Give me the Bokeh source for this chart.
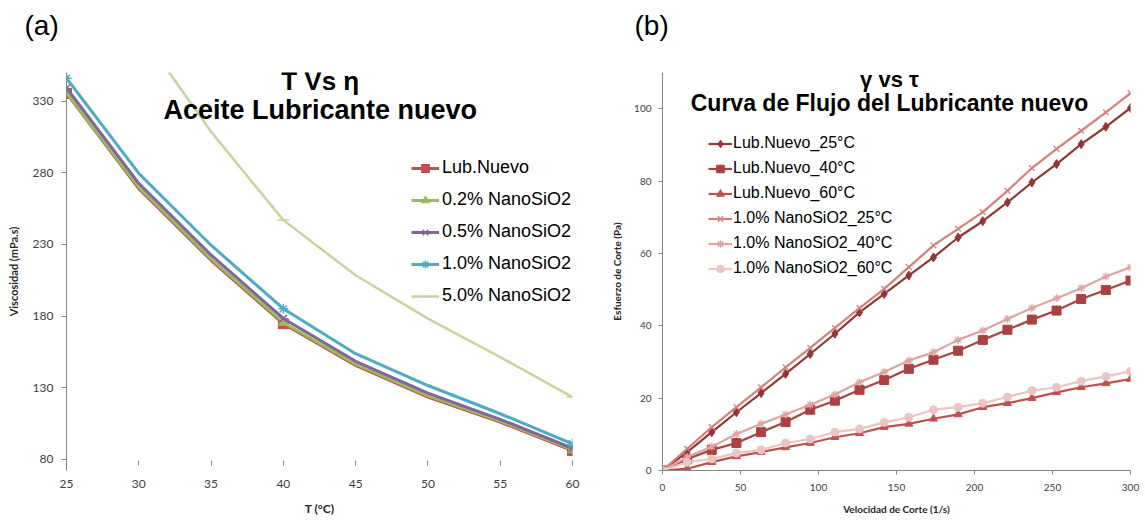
from bokeh.plotting import figure
from bokeh.layouts import row
from bokeh.models import Range1d, FixedTicker, Legend, LegendItem, Label, Title
from bokeh.embed import file_html
from bokeh.resources import INLINE

FONT = "Liberation Sans"
TICKFONT = "Lato"

# ---------------- Panel (a): viscosity vs temperature ----------------
temp_c = [25, 30, 35, 40, 45, 50, 55, 60]
marker_temps = [25, 40, 60]
visc_lub = [335.5, 269.0, 219.0, 174.7, 145.6, 123.5, 106.0, 86.2]
visc_02 = [336.0, 270.0, 220.0, 175.6, 146.5, 124.4, 106.8, 86.8]
visc_05 = [339.2, 272.7, 222.7, 178.4, 148.5, 126.3, 108.0, 87.8]
visc_10 = [346.0, 279.6, 229.5, 185.2, 153.8, 131.6, 111.9, 90.9]
visc_50 = [470.0, 380.0, 308.7, 247.0, 208.5, 178.3, 151.4, 123.5]
a_names = ["Lub.Nuevo", "0.2% NanoSiO2", "0.5% NanoSiO2", "1.0% NanoSiO2", "5.0% NanoSiO2"]
a_ticks_x = [25, 30, 35, 40, 45, 50, 55, 60]
a_ticks_y = [80, 130, 180, 230, 280, 330]

# ---------------- Panel (b): shear stress vs shear rate ----------------
shear_rate = [0, 15.8, 31.6, 47.4, 63.2, 78.9, 94.7, 110.5, 126.3, 142.1,
              157.9, 173.7, 189.5, 205.3, 221.1, 236.8, 252.6, 268.4, 284.2, 300]
lub_25 = [0, 5.1, 10.6, 16.1, 21.4, 26.7, 32.2, 37.8, 43.7, 48.8,
          53.9, 58.9, 64.4, 68.9, 74.1, 79.6, 84.7, 90.2, 95.0, 100.2]
lub_40 = [0, 3.2, 5.7, 7.6, 10.6, 13.4, 16.8, 19.3, 22.3, 25.0,
          28.1, 30.6, 33.1, 36.1, 38.9, 41.7, 44.2, 47.4, 49.9, 52.5]
lub_60 = [0, 0.5, 2.3, 3.9, 5.1, 6.4, 7.6, 9.2, 10.3, 12.0,
          12.9, 14.3, 15.5, 17.5, 18.6, 20.0, 21.6, 23.0, 24.1, 25.3]
nano_25 = [0, 6.0, 12.0, 17.5, 23.0, 28.5, 33.9, 39.4, 44.9, 50.2,
           56.2, 62.2, 66.8, 71.4, 77.3, 83.6, 88.9, 93.9, 99.0, 104.3]
nano_40 = [0, 3.7, 6.6, 10.1, 12.9, 15.5, 18.2, 21.0, 24.4, 27.2,
           30.4, 32.7, 36.1, 38.7, 41.9, 44.9, 47.6, 50.4, 53.6, 56.2]
nano_60 = [0, 2.3, 3.2, 4.8, 5.7, 7.6, 8.7, 10.6, 11.5, 13.3,
           14.7, 16.8, 17.5, 18.6, 20.3, 22.1, 23.0, 24.7, 26.0, 27.4]
b_names = ["Lub.Nuevo_25°C", "Lub.Nuevo_40°C", "Lub.Nuevo_60°C",
           "1.0% NanoSiO2_25°C", "1.0% NanoSiO2_40°C", "1.0% NanoSiO2_60°C"]
b_ticks_x = [0, 50, 100, 150, 200, 250, 300]
b_ticks_y = [0, 20, 40, 60, 80, 100]

AXIS_GRAY = "#868686"
TICK_TEXT = "#404040"


def style_axes(p, label_size, title_size, show_x_line):
    for ax in (p.xaxis[0], p.yaxis[0]):
        ax.axis_line_color = AXIS_GRAY if (ax is p.yaxis[0] or show_x_line) else None
        ax.axis_line_width = 1
        ax.major_tick_line_color = AXIS_GRAY
        ax.major_tick_in = 0
        ax.minor_tick_line_color = None
        ax.major_label_text_font = TICKFONT
        ax.major_label_text_font_size = label_size
        ax.major_label_text_color = TICK_TEXT
        ax.axis_label_text_font = TICKFONT
        ax.axis_label_text_font_size = title_size
        ax.axis_label_text_font_style = "bold"
        ax.axis_label_text_color = "#262626"
    p.xgrid.visible = False
    p.ygrid.visible = False
    p.outline_line_color = None


def add_panel_tag(p, text, offset):
    # invisible spacer next to the frame, then the panel tag above it
    p.add_layout(Title(text=" ", text_font=FONT, text_font_size="20px", standoff=8), "above")
    p.add_layout(Title(text=text, text_font=FONT, text_font_size="28px",
                       text_font_style="normal", text_color="#000000", align="left",
                       offset=offset, standoff=0, vertical_align="bottom"), "above")


# ---------- figure a ----------
pa = figure(width=590, height=521, output_backend="svg", toolbar_location=None,
            x_range=Range1d(25, 60), y_range=Range1d(72.3, 350),
            min_border_left=66, min_border_right=18, min_border_top=72, min_border_bottom=51,
            x_axis_label="T (°C)", y_axis_label="Viscosidad (mPa.s)")
pa.background_fill_color = "white"
pa.border_fill_color = "white"
style_axes(pa, "12px", "12px", False)
pa.yaxis.axis_label_text_font_size = "11px"
add_panel_tag(pa, "(a)", -42)
pa.xaxis.ticker = FixedTicker(ticks=a_ticks_x)
pa.yaxis.ticker = FixedTicker(ticks=a_ticks_y)
pa.xaxis.major_tick_in = 10
pa.xaxis.major_tick_out = -5
pa.yaxis.major_tick_out = 5
pa.xaxis.major_label_standoff = 9
pa.yaxis.major_label_standoff = 8
pa.xaxis.axis_label_standoff = 10
pa.yaxis.axis_label_standoff = 10

a_series = [visc_lub, visc_02, visc_05, visc_10, visc_50]
a_colors = ["#C0504D", "#9BBB59", "#8064A2", "#4BACC6", "#C3D69B"]
a_markers = ["square", "triangle", "x", "asterisk", "dash"]
a_msize = [10, 10, 10, 10, 12]
a_items = []
for name, vals, col, mk, ms in zip(a_names, a_series, a_colors, a_markers, a_msize):
    ln = pa.line(temp_c, vals, line_color=col, line_width=3 if mk != "dash" else 2.5)
    mx = [t for t in temp_c if t in marker_temps]
    my = [v for t, v in zip(temp_c, vals) if t in marker_temps]
    sc = pa.scatter(mx, my, marker=mk, size=ms, fill_color=col, line_color=col,
                    line_width=1.5 if mk in ("x", "asterisk", "dash") else 1)
    a_items.append(LegendItem(label=name, renderers=[ln, sc]))

leg_a = Legend(items=a_items, location=(345, 164), orientation="vertical",
               background_fill_alpha=0, border_line_color=None, padding=0, margin=0,
               spacing=11, glyph_width=28, glyph_height=20, label_height=20,
               label_standoff=3, label_text_font=FONT, label_text_font_size="18px",
               label_text_color="#000000")
pa.add_layout(leg_a)

pa.add_layout(Label(x=42.55, y=343.8, text="T Vs η", text_font=FONT, text_font_size="26px",
                    text_font_style="bold", text_align="center", text_baseline="middle",
                    text_color="#000000"))
pa.add_layout(Label(x=42.55, y=324.1, text="Aceite Lubricante nuevo", text_font=FONT,
                    text_font_size="27px", text_font_style="bold", text_align="center",
                    text_baseline="middle", text_color="#000000"))

# ---------- figure b ----------
pb = figure(width=555, height=521, output_backend="svg", toolbar_location=None,
            x_range=Range1d(0, 300), y_range=Range1d(0, 110),
            min_border_left=72, min_border_right=15, min_border_top=72, min_border_bottom=51,
            x_axis_label="Velocidad de Corte (1/s)", y_axis_label="Esfuerzo de Corte (Pa)")
pb.background_fill_color = "white"
pb.border_fill_color = "white"
style_axes(pb, "10px", "10px", True)
add_panel_tag(pb, "(b)", -28)
pb.xaxis.ticker = FixedTicker(ticks=b_ticks_x)
pb.yaxis.ticker = FixedTicker(ticks=b_ticks_y)
pb.xaxis.major_tick_out = 4
pb.yaxis.major_tick_out = 4
pb.xaxis.major_label_standoff = 9
pb.yaxis.major_label_standoff = 7
pb.xaxis.axis_label_standoff = 9
pb.yaxis.axis_label_standoff = 8

b_series = [lub_25, lub_40, lub_60, nano_25, nano_40, nano_60]
b_colors = ["#943634", "#A94240", "#C0504D", "#D4807D", "#DFA3A1", "#EBC5C4"]
b_markers = ["diamond", "square", "triangle", "x", "asterisk", "circle"]
b_msize = [9, 9, 8, 8, 8, 8]
b_items = []
for name, vals, col, mk, ms in zip(b_names, b_series, b_colors, b_markers, b_msize):
    ln = pb.line(shear_rate, vals, line_color=col, line_width=2.2)
    sc = pb.scatter(shear_rate, vals, marker=mk, size=ms, fill_color=col, line_color=col,
                    line_width=1.3 if mk in ("x", "asterisk") else 1)
    b_items.append(LegendItem(label=name, renderers=[ln, sc]))

leg_b = Legend(items=b_items, location=(46, 192), orientation="vertical",
               background_fill_alpha=0, border_line_color=None, padding=0, margin=0,
               spacing=5, glyph_width=24, glyph_height=19, label_height=20,
               label_standoff=1, label_text_font=FONT, label_text_font_size="16px",
               label_text_color="#000000")
pb.add_layout(leg_b)

pb.add_layout(Label(x=145.5, y=108.2, text="γ vs τ", text_font=FONT, text_font_size="22px",
                    text_font_style="bold", text_align="center", text_baseline="middle",
                    text_color="#000000"))
pb.add_layout(Label(x=145.5, y=101.5, text="Curva de Flujo del Lubricante nuevo", text_font=FONT,
                    text_font_size="23px", text_font_style="bold", text_align="center",
                    text_baseline="middle", text_color="#000000"))

layout = row(pa, pb)
open("out.html", "w").write(file_html(layout, INLINE))
